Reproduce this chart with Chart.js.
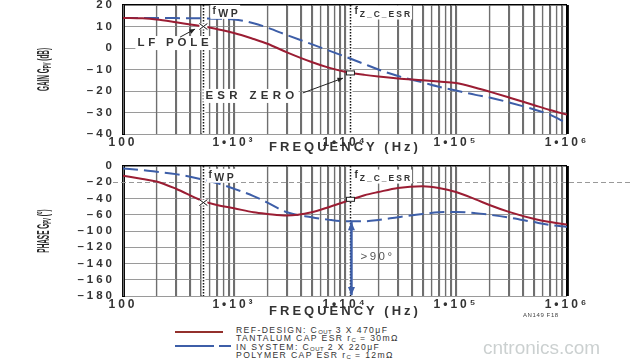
<!DOCTYPE html>
<html>
<head>
<meta charset="utf-8">
<script src="https://cdn.jsdelivr.net/npm/chart.js@4/dist/chart.umd.min.js"></script>
<style>
  body { margin: 0; width: 640px; height: 360px; background: #fff; position: relative; overflow: hidden; font-family: "Liberation Sans", Arial, sans-serif; }
  canvas { position: absolute; left: 0; }
  #gain { top: 0; }
  #phase { top: 160px; }
  .sw { position: absolute; height: 2px; }
  .red { background: #93302c; }
  .blue { background: #3d5ea8; }
  #legendText { position: absolute; left: 236px; top: 327px; font-size: 8.6px; line-height: 7.4px; letter-spacing: 1.4px; color: #333; white-space: nowrap; }
  #legendText sub { font-size: 6px; vertical-align: baseline; position: relative; top: 1px; letter-spacing: 0.4px; }
  #figId { position: absolute; left: 523px; top: 312px; font-size: 6px; letter-spacing: 0.6px; color: #444; }
  #mark { position: absolute; left: 483px; top: 337px; font-size: 19px; color: rgba(140, 150, 150, 0.45); font-family: Arial, "Liberation Sans", sans-serif; }
</style>
</head>
<body>
<canvas id="gain" width="640" height="160"></canvas>
<canvas id="phase" width="640" height="165"></canvas>

<div class="sw red" style="left:175px; top:331px; width:48px;"></div>
<div class="sw blue" style="left:175px; top:345px; width:39px;"></div>
<div class="sw blue" style="left:219px; top:345px; width:12px;"></div>
<div id="legendText">REF-DESIGN: C<sub>OUT</sub> 3 X 470μF<br>TANTALUM CAP ESR r<sub>C</sub> = 30mΩ<br>IN SYSTEM: C<sub>OUT</sub> 2 X 220μF<br>POLYMER CAP ESR r<sub>C</sub> = 12mΩ</div>
<div id="figId">AN149 F18</div>
<div id="mark">cntronics.com</div>

<script>
// frequency points (Hz) shared by all curves
const freqs = [100, 150, 200, 300, 500, 700, 1e3, 1.5e3, 2e3, 3e3, 5e3, 7e3, 1e4, 1.5e4, 2e4, 3e4, 5e4, 7e4, 1e5, 1.5e5, 2e5, 3e5, 5e5, 7e5, 1e6];

// gain (dB)
const gainRef = [14, 13.8, 13.3, 12, 10.2, 8.8, 7, 4.2, 2, -2, -6.5, -9, -11, -12.5, -13.3, -14.2, -15, -15.6, -16.3, -18.5, -20.3, -23, -26.5, -28.8, -31];
const gainSys = [14, 14, 14, 13.9, 13.8, 13.6, 13.3, 11.5, 9.5, 6, 1.8, -1, -4, -7.5, -10, -13, -16, -18, -19.8, -21.8, -23, -25.3, -28.5, -31, -35];

// phase, in grid units of 20 per division as drawn
const phaseRef = [-12, -16, -19, -28, -42, -48, -52, -57, -59, -61, -57, -51, -44, -36, -32, -27, -25, -27, -32, -41, -48, -56.5, -65, -69, -72];
const phaseSys = [-3, -5, -7, -10, -16, -21, -28, -37, -45, -57, -63, -66, -68, -68, -66.5, -63, -59, -57, -56.5, -58, -60, -63.5, -69, -72.5, -75];

// tick labels as printed
const decadeFreqs = [100, 1e3, 1e4, 1e5, 1e6];
const decadeLabels = ['100', '1•10³', '1•10⁴', '1•10⁵', '1•10⁶'];
const phaseTickLabels = ['0', '–20', '–40', '–60', '–100', '–120', '–140', '–160', '–180'];

// marked frequencies
const fWP = 530;
const fZ = 11200;

const RED = '#9b1d33';
const BLUE = '#3d5ea8';
const FONT = '"Liberation Sans", Arial, sans-serif';
const TRACK = '3px';

// minor grid: 1..9 x each decade
const gridFreqs = [];
decadeFreqs.forEach((d, i) => {
  if (i === decadeFreqs.length - 1) { gridFreqs.push(d); return; }
  for (let m = 1; m < 10; m++) gridFreqs.push(d * m);
});

function richText(ctx, parts, x, y, opt = {}) {
  ctx.save();
  ctx.letterSpacing = opt.spacing || '1px';
  ctx.textBaseline = 'middle';
  ctx.textAlign = 'left';
  const fam = opt.family || FONT;
  const weight = opt.weight || 'bold';
  let w = 0;
  parts.forEach(p => {
    ctx.font = `${weight} ${p.size}px ${fam}`;
    p.w = ctx.measureText(p.t).width;
    w += p.w;
  });
  let x0 = opt.align === 'center' ? x - w / 2 : x;
  if (opt.bg) {
    ctx.fillStyle = '#fff';
    ctx.fillRect(x0 - 2, y - 7, w + 2, 14);
  }
  ctx.fillStyle = opt.color || '#333';
  parts.forEach(p => {
    ctx.font = `${weight} ${p.size}px ${fam}`;
    ctx.fillText(p.t, x0, y + (p.dy || 0));
    x0 += p.w;
  });
  ctx.restore();
}

function vline(chart, f) {
  const {ctx, chartArea: a, scales: {x}} = chart;
  const px = Math.round(x.getPixelForValue(f)) + 0.5;
  ctx.save();
  ctx.strokeStyle = '#fff';
  ctx.lineWidth = 4;
  ctx.beginPath(); ctx.moveTo(px, a.top + 1); ctx.lineTo(px, a.bottom - 1); ctx.stroke();
  ctx.strokeStyle = '#111';
  ctx.lineWidth = 1.5;
  ctx.setLineDash([1.5, 1.5]);
  ctx.beginPath(); ctx.moveTo(px, a.top); ctx.lineTo(px, a.bottom); ctx.stroke();
  ctx.restore();
  return px;
}

function arrowHead(ctx, x1, y1, x2, y2, size) {
  const ang = Math.atan2(y2 - y1, x2 - x1);
  ctx.beginPath();
  ctx.moveTo(x2, y2);
  ctx.lineTo(x2 - size * Math.cos(ang - 0.4), y2 - size * Math.sin(ang - 0.4));
  ctx.lineTo(x2 - size * Math.cos(ang + 0.4), y2 - size * Math.sin(ang + 0.4));
  ctx.closePath();
  ctx.fill();
}

function arrow(ctx, x1, y1, x2, y2, color, width, both) {
  ctx.save();
  ctx.strokeStyle = color;
  ctx.fillStyle = color;
  ctx.lineWidth = width;
  ctx.beginPath(); ctx.moveTo(x1, y1); ctx.lineTo(x2, y2); ctx.stroke();
  arrowHead(ctx, x1, y1, x2, y2, 4 + width * 2);
  if (both) arrowHead(ctx, x2, y2, x1, y1, 4 + width * 2);
  ctx.restore();
}

function crossMarker(ctx, x, y) {
  ctx.save();
  ctx.fillStyle = '#fff';
  ctx.fillRect(x - 4, y - 3, 8, 6);
  ctx.strokeStyle = '#111';
  ctx.lineWidth = 1;
  ctx.beginPath();
  ctx.moveTo(x - 4, y - 3); ctx.lineTo(x + 4, y + 3);
  ctx.moveTo(x - 4, y + 3); ctx.lineTo(x + 4, y - 3);
  ctx.stroke();
  ctx.restore();
}

function boxMarker(ctx, x, y) {
  ctx.save();
  ctx.fillStyle = '#fff';
  ctx.strokeStyle = '#222';
  ctx.lineWidth = 1;
  ctx.fillRect(x - 4, y - 2, 8, 4);
  ctx.strokeRect(x - 4, y - 2, 8, 4);
  ctx.restore();
}

function yTitle(chart, parts) {
  const {ctx, chartArea: a} = chart;
  ctx.save();
  ctx.translate(45, (a.top + a.bottom) / 2);
  ctx.rotate(-Math.PI / 2);
  ctx.scale(0.4, 1);
  richText(ctx, parts, 0, 0, {align: 'center', spacing: '0px', color: '#2a2a2a'});
  ctx.restore();
}

// text tracking for axis labels, and the log minor grid
const axisStyle = {
  id: 'axisStyle',
  beforeDraw(chart) {
    chart.ctx.letterSpacing = TRACK;
  },
  beforeDatasetsDraw(chart) {
    const {ctx, chartArea: a, scales: {x}} = chart;
    ctx.save();
    ctx.letterSpacing = '0px';
    gridFreqs.forEach(f => {
      const last = f === decadeFreqs[decadeFreqs.length - 1];
      ctx.strokeStyle = last ? '#000' : '#6f6f6f';
      ctx.lineWidth = last ? 2.5 : 1.2;
      const px = Math.round(x.getPixelForValue(f)) + 0.5;
      ctx.beginPath(); ctx.moveTo(px, a.top); ctx.lineTo(px, a.bottom); ctx.stroke();
    });
    ctx.restore();
  },
  afterDraw(chart) {
    chart.ctx.letterSpacing = '0px';
  }
};

const annotGain = {
  id: 'annotGain',
  beforeDatasetsDraw(chart) {
    vline(chart, fWP);
    vline(chart, fZ);
  },
  afterDatasetsDraw(chart) {
    const {ctx, scales: {x, y}} = chart;
    const xw = x.getPixelForValue(fWP);
    const xz = x.getPixelForValue(fZ);
    richText(ctx, [{t: 'f', size: 10, dy: -1}, {t: 'WP', size: 10.5, dy: 2}], xw + 9, y.getPixelForValue(16.8), {bg: true, spacing: '2.5px'});
    richText(ctx, [{t: 'f', size: 10, dy: -1}, {t: 'Z_C_ESR', size: 8.5, dy: 2}], xz + 4, y.getPixelForValue(16.5), {bg: true, spacing: '2px'});
    richText(ctx, [{t: 'LF POLE', size: 11.5}], x.getPixelForValue(294), y.getPixelForValue(2.3), {align: 'center', bg: true, spacing: '3.8px'});
    arrow(ctx, x.getPixelForValue(327), y.getPixelForValue(5.1), x.getPixelForValue(446), y.getPixelForValue(8.8), '#222', 1, false);
    crossMarker(ctx, xw, y.getPixelForValue(10));
    richText(ctx, [{t: 'ESR ZERO', size: 11.5}], x.getPixelForValue(1452), y.getPixelForValue(-22.3), {align: 'center', bg: true, spacing: '4.3px'});
    arrow(ctx, x.getPixelForValue(4170), y.getPixelForValue(-20.9), x.getPixelForValue(9600), y.getPixelForValue(-14), '#222', 1, false);
    boxMarker(ctx, xz, y.getPixelForValue(-11.6));
  },
  afterDraw(chart) {
    yTitle(chart, [{t: 'GAIN G', size: 16}, {t: 'PV', size: 11, dy: 3}, {t: ' (dB)', size: 16}]);
  }
};

const annotPhase = {
  id: 'annotPhase',
  beforeDatasetsDraw(chart) {
    const {ctx, scales: {y}} = chart;
    const py = Math.round(y.getPixelForValue(-20)) + 0.5;
    ctx.save();
    ctx.strokeStyle = '#999';
    ctx.lineWidth = 1;
    ctx.setLineDash([5, 3]);
    ctx.beginPath(); ctx.moveTo(113, py); ctx.lineTo(632, py); ctx.stroke();
    ctx.restore();
    vline(chart, fWP);
    vline(chart, fZ);
  },
  afterDatasetsDraw(chart) {
    const {ctx, scales: {x, y}} = chart;
    const xw = x.getPixelForValue(fWP);
    const xz = x.getPixelForValue(fZ);
    richText(ctx, [{t: 'f', size: 10, dy: -1}, {t: 'WP', size: 10.5, dy: 2}], xw + 5, y.getPixelForValue(-12), {bg: true, spacing: '2.5px'});
    richText(ctx, [{t: 'f', size: 10, dy: -1}, {t: 'Z_C_ESR', size: 8.5, dy: 2}], xz + 4, y.getPixelForValue(-13), {bg: true, spacing: '2px'});
    crossMarker(ctx, xw, y.getPixelForValue(-45));
    boxMarker(ctx, xz, y.getPixelForValue(-41));
    arrow(ctx, xz + 1, y.getPixelForValue(-69), xz + 1, y.getPixelForValue(-159), BLUE, 2.5, true);
    richText(ctx, [{t: '>90°', size: 11.5}], xz + 10, y.getPixelForValue(-112), {spacing: '2.5px', weight: 'normal', color: '#555'});
  },
  afterDraw(chart) {
    yTitle(chart, [{t: 'PHASE G', size: 16}, {t: 'PV', size: 11, dy: 3}, {t: ' (°)', size: 16}]);
  }
};

function makeChart(id, refData, sysData, yOpts, topPad, axisHeight, titlePad, plugin) {
  return new Chart(document.getElementById(id), {
    type: 'line',
    data: {
      labels: freqs,
      datasets: [
        {data: refData.map((v, i) => ({x: freqs[i], y: v})), borderColor: RED, borderWidth: 2, cubicInterpolationMode: 'monotone'},
        {data: sysData.map((v, i) => ({x: freqs[i], y: v})), borderColor: BLUE, borderWidth: 2, borderDash: [15, 6], cubicInterpolationMode: 'monotone'}
      ]
    },
    options: {
      responsive: false,
      animation: false,
      layout: {padding: {left: 0, right: 73, top: topPad, bottom: 0}},
      elements: {point: {radius: 0}},
      plugins: {legend: {display: false}, tooltip: {enabled: false}},
      scales: {
        x: {
          type: 'logarithmic',
          min: 100,
          max: 1e6,
          afterBuildTicks: s => { s.ticks = gridFreqs.map(v => ({value: v})); },
          afterFit: s => { s.height = axisHeight; s.paddingLeft = 0; s.paddingRight = 0; },
          border: {display: false},
          grid: {
            drawTicks: false,
            color: c => c.tick && c.tick.value === 1e6 ? '#000' : '#6f6f6f',
            lineWidth: c => c.tick && c.tick.value === 1e6 ? 2.5 : 1.2
          },
          ticks: {
            autoSkip: false,
            maxRotation: 0,
            padding: 1,
            color: '#333',
            font: {family: FONT, size: 12, weight: 'bold'},
            callback: v => {
              const i = decadeFreqs.indexOf(v);
              return i >= 0 ? decadeLabels[i] : '';
            }
          },
          title: {
            display: true,
            text: 'FREQUENCY (Hz)',
            color: '#333',
            font: {family: FONT, size: 13, weight: 'bold'},
            padding: {top: 0, bottom: titlePad}
          }
        },
        y: Object.assign({
          afterFit: s => { s.width = 123; s.paddingTop = 0; s.paddingBottom = 0; },
          border: {display: true, color: '#000', width: 3},
          grid: {
            drawTicks: false,
            color: c => {
              if (!c.tick) return '#9a9a9a';
              if (c.tick.value === yOpts.max) return '#000';
              if (yOpts.hide !== undefined && c.tick.value === yOpts.hide) return 'rgba(0,0,0,0)';
              return '#9a9a9a';
            },
            lineWidth: c => c.tick && c.tick.value === yOpts.max ? 1.5 : 1
          }
        }, yOpts.scale)
      }
    },
    plugins: [axisStyle, plugin]
  });
}

makeChart('gain', gainRef, gainSys, {
  max: 20,
  scale: {
    min: -40,
    max: 20,
    ticks: {
      stepSize: 10,
      autoSkip: false,
      padding: 8,
      color: '#333',
      font: {family: FONT, size: 11.5, weight: 'bold'},
      callback: v => v < 0 ? '–' + (-v) : String(v)
    }
  }
}, 5, 26, 5, annotGain);

makeChart('phase', phaseRef, phaseSys, {
  max: 0,
  hide: -20,
  scale: {
    min: -160,
    max: 0,
    ticks: {
      stepSize: 20,
      autoSkip: false,
      padding: 8,
      color: '#333',
      font: {family: FONT, size: 11.5, weight: 'bold'},
      callback: v => phaseTickLabels[Math.round(-v / 20)]
    }
  }
}, 6, 29, 6, annotPhase);
</script>
</body>
</html>
